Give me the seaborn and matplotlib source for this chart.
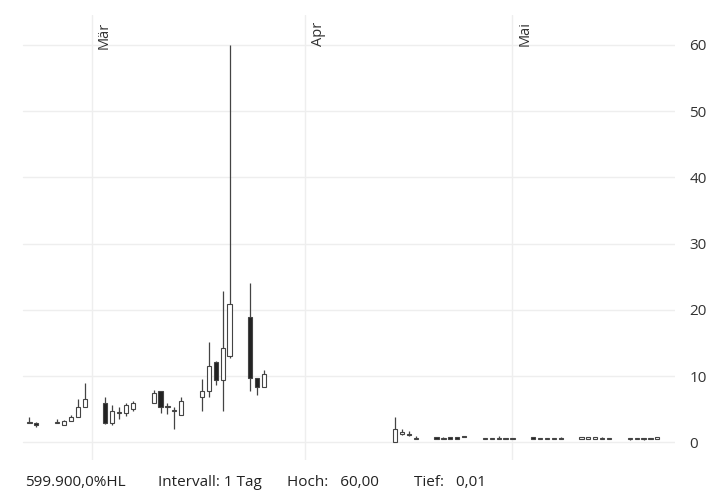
import matplotlib
matplotlib.use("Agg")
import matplotlib.pyplot as plt
import seaborn as sns
import numpy as np
import pandas as pd

# day offsets from 1 March
days = [-9,-8,-5,-4,-3,-2,-1, 2,3,4,5,6, 9,10,11,12,13, 16,17,18,19,20, 23,24,25,
        44,45,46,47, 50,51,52,53,54, 57,58,59,60,61, 64,65,66,67,68, 71,72,73,74,75, 78,79,80,81,82]
opens  = [3.0,3.0,3.0,2.6,3.3,3.9,5.3, 5.9,2.9,4.4,4.5,5.0, 6.0,7.7,5.3,4.7,4.2, 6.9,7.8,12.1,9.4,13.0, 18.9,9.8,8.3,
          0.0,1.3,1.3,0.6, 0.8,0.5,0.8,0.8,0.9, 0.5,0.6,0.6,0.5,0.6, 0.8,0.5,0.6,0.5,0.7, 0.6,0.6,0.6,0.5,0.5, 0.5,0.5,0.5,0.5,0.6]
closes = [3.0,2.7,3.1,3.3,3.9,5.3,6.6, 3.0,4.7,4.6,5.6,6.0, 7.4,5.3,5.4,4.8,6.2, 7.8,11.6,9.5,14.3,20.9, 9.8,8.3,10.3,
          2.1,1.6,1.1,0.6, 0.6,0.6,0.6,0.6,0.8, 0.6,0.7,0.7,0.6,0.7, 0.6,0.6,0.7,0.6,0.6, 0.8,0.8,0.8,0.6,0.6, 0.6,0.6,0.6,0.6,0.8]
highs  = [3.8,3.1,3.5,3.4,4.1,6.5,8.9, 6.9,5.6,5.3,5.9,6.3, 7.9,7.8,5.9,5.4,6.8, 9.6,15.1,12.3,22.8,60.0, 24.1,9.8,10.9,
          3.9,2.1,1.8,1.0, 0.8,0.9,0.8,0.9,0.9, 0.7,0.7,1.0,0.6,0.7, 0.8,0.7,0.7,0.7,0.8, 0.8,0.8,0.8,0.8,0.7, 0.6,0.7,0.6,0.6,0.8]
lows   = [3.0,2.4,3.0,2.6,3.3,3.9,5.3, 2.8,2.7,3.5,4.0,4.8, 5.9,4.4,4.3,2.1,4.2, 4.7,6.9,8.6,4.7,12.8, 7.8,7.2,8.3,
          0.0,1.2,1.0,0.5, 0.5,0.5,0.6,0.5,0.8, 0.5,0.6,0.5,0.5,0.6, 0.6,0.5,0.6,0.5,0.5, 0.5,0.6,0.5,0.5,0.5, 0.4,0.5,0.4,0.5,0.5]
month_pos = [0, 31, 61]
month_labels = ["Mär", "Apr", "Mai"]
yticks = [0, 10, 20, 30, 40, 50, 60]

df = pd.DataFrame(dict(d=days, o=opens, c=closes, h=highs, l=lows))
df["bottom"] = df[["o", "c"]].min(axis=1)
df["height"] = (df["c"] - df["o"]).abs().clip(lower=0.15)
df["up"] = df["c"] >= df["o"]

sns.set_style("white")
plt.rcParams['font.family'] = ['Open Sans', 'DejaVu Sans']
fig = plt.figure(figsize=(7.23, 4.97), dpi=100)
ax = fig.add_axes([0.014, 0.075, 0.92, 0.895])

for v in month_pos:
    ax.axvline(v, color="#eeeeee", lw=1, zorder=0)
for t in yticks:
    ax.axhline(t, xmin=0.02, color="#eeeeee", lw=1, zorder=0)

edge = "#444444"
ax.vlines(df["d"], df["l"], df["h"], color=edge, lw=0.9, zorder=2)
ax.bar(df["d"], df["height"], bottom=df["bottom"], width=0.6,
       color=np.where(df["up"], "white", "#222222"), edgecolor=edge, linewidth=0.8, zorder=3)

ax.set_xlim(-11.8, 84.6)
ax.set_ylim(-2.6, 64.5)
ax.yaxis.tick_right()
ax.set_yticks(yticks)
ax.set_yticklabels([str(t) for t in yticks], fontsize=11, color="#333333")
ax.tick_params(axis="y", length=0, pad=10)
ax.set_xticks([])
for s in ax.spines.values():
    s.set_visible(False)
for p, lab in zip(month_pos, month_labels):
    ax.text(p + 0.8, 63.5, lab, rotation=90, va="top", ha="left", fontsize=10.5, color="#333333")

fig.text(0.035, 0.03, "599.900,0%HL", fontsize=11, color="#222222", va="center")
fig.text(0.218, 0.03, "Intervall: 1 Tag", fontsize=11, color="#222222", va="center")
fig.text(0.397, 0.03, "Hoch:   60,00", fontsize=11, color="#222222", va="center")
fig.text(0.572, 0.03, "Tief:   0,01", fontsize=11, color="#222222", va="center")

fig.savefig("out.png", dpi=100)
